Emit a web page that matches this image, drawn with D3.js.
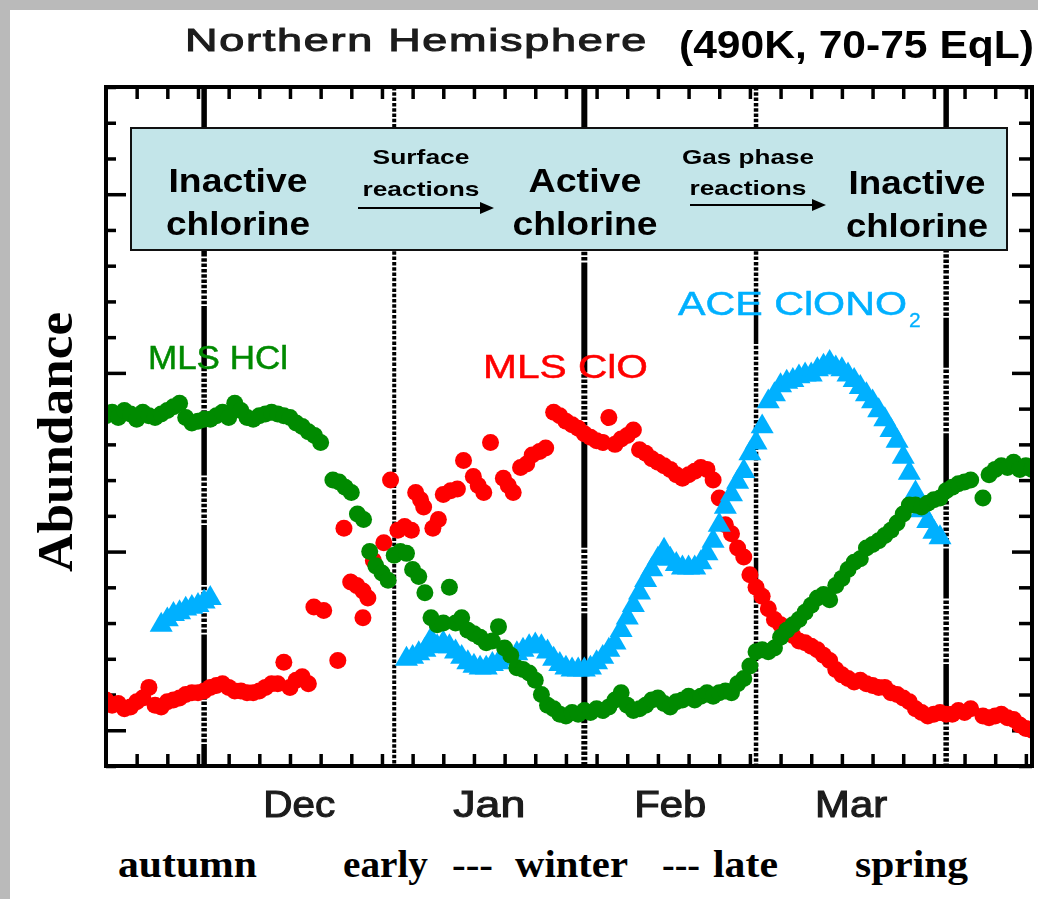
<!DOCTYPE html>
<html>
<head>
<meta charset="utf-8">
<script src="https://cdn.jsdelivr.net/npm/d3@7"></script>
<style>
  html, body { margin: 0; padding: 0; background: #fff; }
  svg { display: block; }
</style>
</head>
<body>
<svg id="chart" width="1038" height="899"></svg>
<script>
// ---------------------------------------------------------------
// Data: chlorine partitioning through the Arctic winter
// Days are counted from 15 November; abundance in arbitrary units.
// ---------------------------------------------------------------
const seasonStart = Date.UTC(2004, 10, 15);
const seasonLength = 151;                       // to 15 April

const monthNames = ["Dec", "Jan", "Feb", "Mar"];
const seasonWords = ["autumn", "early", "---", "winter", "---", "late", "spring"];
const stageLabels = [["Inactive", "chlorine"], ["Active", "chlorine"], ["Inactive", "chlorine"]];
const processLabels = [["Surface", "reactions"], ["Gas phase", "reactions"]];
const seriesNames = ["MLS HCl", "MLS ClO", "ACE ClONO"];

// MLS HCl  [day, abundance]
const hcl = [
  [0,1.76],[1,1.78],[2,1.75],[3,1.79],[4,1.77],[5,1.74],[6,1.78],[7,1.76],[8,1.75],[9,1.77],
  [10,1.79],[11,1.81],[12,1.83],[13,1.75],[14,1.72],[15,1.73],[16,1.74],[17,1.74],[18,1.76],[19,1.78],
  [20,1.75],[21,1.83],[22,1.79],[23,1.75],[24,1.74],[25,1.76],[26,1.77],[27,1.78],[28,1.77],[29,1.76],
  [30,1.75],[31,1.72],[32,1.70],[33,1.67],[34,1.65],[35,1.61],
  [37,1.40],[38,1.39],[39,1.36],[40,1.33],[41,1.21],[42,1.18],[43,1.00],[44,0.92],[45,0.88],[46,0.84],
  [47,0.98],[48,1.00],[49,0.99],[50,0.90],[51,0.86],[52,0.77],[53,0.63],[54,0.59],[55,0.60],[56,0.80],
  [57,0.60],[58,0.63],[59,0.56],[60,0.54],[61,0.52],[62,0.49],[63,0.50],[64,0.58],[65,0.46],[66,0.42],
  [67,0.35],[68,0.34],[69,0.32],[70,0.28],[71,0.20],[72,0.14],[73,0.12],[74,0.09],[75,0.08],[76,0.10],
  [77,0.09],[78,0.11],[79,0.10],[80,0.12],[81,0.11],[82,0.13],[83,0.17],[84,0.21],[85,0.14],[86,0.11],
  [87,0.12],[88,0.14],[89,0.17],[90,0.18],[91,0.15],[92,0.13],[93,0.16],[94,0.17],[95,0.19],[96,0.17],
  [97,0.19],[98,0.21],[99,0.19],[100,0.21],[101,0.22],[102,0.21],[103,0.26],[104,0.29],[105,0.36],[106,0.44],
  [107,0.45],[108,0.44],[109,0.46],[110,0.52],[111,0.56],[112,0.59],[113,0.62],[114,0.66],[115,0.70],[116,0.74],
  [117,0.76],[118,0.73],[119,0.81],[120,0.85],[121,0.90],[122,0.94],[123,0.96],[124,1.02],[125,1.04],[126,1.06],
  [127,1.09],[128,1.12],[129,1.16],[130,1.21],[131,1.26],[132,1.26],[133,1.25],[134,1.27],[135,1.29],[136,1.30],
  [137,1.34],[138,1.36],[139,1.38],[140,1.39],[141,1.40],[143,1.30],[144,1.43],[145,1.46],[146,1.48],
  [147,1.47],[148,1.50],[149,1.46],[150,1.48],[151,1.46]
];

// MLS ClO  [day, abundance]
const clo = [
  [0,0.17],[1,0.14],[2,0.15],[3,0.12],[4,0.13],[5,0.16],[6,0.18],[7,0.24],[8,0.14],[9,0.13],
  [10,0.16],[11,0.17],[12,0.18],[13,0.20],[14,0.21],[15,0.21],[16,0.22],[17,0.24],[18,0.25],[19,0.26],
  [20,0.24],[21,0.22],[22,0.22],[23,0.21],[24,0.21],[25,0.22],[26,0.24],[27,0.26],[28,0.26],[29,0.38],
  [30,0.24],[31,0.28],[32,0.30],[33,0.26],
  [33.9,0.69],[35.5,0.67],[37.8,0.39],[38.8,1.13],[39.9,0.83],[40.9,0.81],[41.9,0.78],[42.7,0.74],
  [41.9,0.63],[43.6,0.95],[45.3,1.05],[46.4,1.40],[47.6,1.12],[48.7,1.14],[49.8,1.12],[50.5,1.33],
  [51.3,1.29],[51.8,1.25],[53.3,1.13],[54.2,1.18],[55.0,1.32],[56.2,1.34],[57.3,1.35],[58.3,1.51],
  [59.9,1.42],[60.7,1.37],[61.6,1.33],[62.7,1.61],[64.8,1.41],[65.6,1.37],[66.4,1.33],[67.6,1.47],
  [68.6,1.49],[69.5,1.54],[70.7,1.56],[71.7,1.58],
  [73,1.78],[74,1.76],[75,1.73],[76,1.71],[77,1.69],[78,1.66],[79,1.64],[80,1.62],[81,1.61],
  [82,1.75],[83,1.60],[84,1.63],[85,1.65],[86,1.68],[87,1.57],[88,1.55],[89,1.52],[90,1.50],[91,1.48],
  [92,1.46],[93,1.43],[94,1.41],[95,1.43],[96,1.45],[97,1.47],[98,1.46],[99,1.40],[100,1.30],[101,1.15],
  [102,1.10],[103,1.02],[104,0.97],[105,0.87],[106,0.80],[107,0.75],[108,0.68],[109,0.62],[110,0.59],[111,0.56],
  [112,0.53],[113,0.50],[114,0.49],[115,0.47],[116,0.45],[117,0.42],[118,0.39],[119,0.34],[120,0.31],[121,0.29],
  [122,0.27],[123,0.28],[124,0.26],[125,0.25],[126,0.24],[127,0.24],[128,0.21],[129,0.20],[130,0.18],[131,0.16],
  [132,0.12],[133,0.10],[134,0.08],[135,0.09],[136,0.10],[137,0.09],[138,0.09],[139,0.11],[140,0.10],[141,0.12],
  [143,0.08],[144,0.07],[145,0.08],[146,0.09],[147,0.07],[148,0.06],[149,0.03],[150,0.01],[151,0.00]
];

// ACE ClONO2  [day, abundance]
const clono2 = [
  [9,0.60],[10,0.63],[11,0.66],[12,0.67],[13,0.69],[14,0.70],[15,0.71],[16,0.73],[17,0.75],
  [49,0.41],[50,0.42],[51,0.44],[52,0.46],[53,0.52],[54,0.48],[55,0.50],[56,0.48],[57,0.45],[58,0.42],
  [59,0.39],[60,0.37],[61,0.36],[62,0.36],[63,0.38],[64,0.39],[65,0.41],[66,0.42],[67,0.44],[68,0.46],
  [69,0.48],[70,0.49],[71,0.48],[72,0.45],[73,0.41],[74,0.38],[75,0.36],[76,0.35],[77,0.35],[78,0.35],
  [79,0.36],[80,0.39],[81,0.42],[82,0.46],[83,0.50],[84,0.57],[85,0.64],[86,0.71],[87,0.78],[88,0.85],
  [89,0.91],[90,0.97],[91,1.02],[92,0.97],[93,0.94],[94,0.92],[95,0.92],[96,0.92],[97,0.95],[98,1.00],
  [99,1.07],[100,1.16],[101,1.26],[102,1.33],[103,1.40],[104,1.46],[105,1.56],[106,1.62],[107,1.71],[108,1.85],
  [109,1.89],[110,1.94],[111,1.96],[112,1.97],[113,1.99],[114,2.00],[115,2.00],[116,2.03],[117,2.05],[118,2.07],
  [119,2.04],[120,2.03],[121,2.00],[122,1.97],[123,1.93],[124,1.89],[125,1.85],[126,1.80],[127,1.75],[128,1.69],
  [129,1.63],[130,1.54],[131,1.45],[132,1.34],[133,1.24],[134,1.18],[135,1.12],[136,1.09]
];

const yTicks = d3.range(-0.2, 3.61, 0.2).map(v => +v.toFixed(1));
const yMajor = [0, 1, 2, 3];
const tickDays = d3.range(5, seasonLength, 5);

// ---------------------------------------------------------------
// Layout and scales
// ---------------------------------------------------------------
const GREEN = "#008a00", RED = "#ff0000", BLUE = "#00b0ff";
const SANS = "'Liberation Sans', Arial, Helvetica, sans-serif";
const SERIF = "'Liberation Serif', 'Times New Roman', serif";
const frame = { left: 106, right: 1032, top: 87, bottom: 766 };

const toDate = d => new Date(seasonStart + d * 864e5);
const x = d3.scaleUtc().domain([toDate(0), toDate(seasonLength)]).range([frame.left, frame.right]);
const y = d3.scaleLinear().domain([-0.2, 3.6]).range([frame.bottom, frame.top]);

const svg = d3.select("#chart");
const defs = svg.append("defs");
defs.append("clipPath").attr("id", "plotClip")
  .append("rect")
  .attr("x", frame.left).attr("y", frame.top)
  .attr("width", frame.right - frame.left).attr("height", frame.bottom - frame.top);
defs.append("filter").attr("id", "soft")
  .attr("x", "-5%").attr("y", "-5%").attr("width", "110%").attr("height", "110%")
  .append("feGaussianBlur").attr("stdDeviation", 0.7);

// page background with grey margins
svg.append("rect").attr("width", 1038).attr("height", 899).attr("fill", "#fff");
svg.append("rect").attr("width", 1038).attr("height", 10).attr("fill", "#bababa");
svg.append("rect").attr("width", 10).attr("height", 899).attr("fill", "#bababa");

// text helper: stretched to a fixed width
function put(g, t, o) {
  const el = g.append("text")
    .attr("x", o.x).attr("y", o.y)
    .attr("font-family", o.family || SANS)
    .attr("font-size", o.size)
    .attr("font-weight", o.weight || "normal")
    .attr("fill", o.fill || "#000")
    .attr("text-anchor", o.anchor || "start")
    .text(t);
  if (o.length) el.attr("textLength", o.length).attr("lengthAdjust", "spacingAndGlyphs");
  if (o.spacing) el.attr("letter-spacing", o.spacing);
  if (o.stroke) el.attr("stroke", o.fill || "#000").attr("stroke-width", o.stroke);
  if (o.transform) el.attr("transform", o.transform);
  return el;
}

// ---------------------------------------------------------------
// Month boundaries (patterned vertical lines: solid runs + dotted runs)
// ---------------------------------------------------------------
const monthStarts = d3.utcMonth.range(toDate(1), toDate(seasonLength));
const dotted = n => d3.range(n).map(() => "3.5,1.8").join(",");
const monthDash = [
  "60,1.8," + dotted(9),
  "3.5,1.8",
  "110,1.8," + dotted(12),
  dotted(40) + ",45,1.8",
  "50,1.8," + dotted(12)
];
const monthWidth = [5.5, 4, 6, 4.5, 5.5];
svg.append("g").selectAll("line").data(monthStarts).join("line")
  .attr("x1", d => x(d)).attr("x2", d => x(d))
  .attr("y1", frame.top).attr("y2", frame.bottom)
  .attr("stroke", "#000")
  .attr("stroke-width", (d, i) => monthWidth[i % monthWidth.length])
  .attr("stroke-dasharray", (d, i) => monthDash[i % monthDash.length]);

// ---------------------------------------------------------------
// Ticks on all four sides
// ---------------------------------------------------------------
const tickDates = tickDays.map(toDate);
function styleAxis(g) {
  g.select(".domain").remove();
  g.selectAll(".tick line").attr("stroke", "#000").attr("stroke-width", 3.5);
  g.selectAll(".tick text").remove();
}
svg.append("g").attr("transform", `translate(0,${frame.bottom})`)
  .call(d3.axisBottom(x).tickValues(tickDates).tickSize(-12).tickFormat(() => ""))
  .call(styleAxis);
svg.append("g").attr("transform", `translate(0,${frame.top})`)
  .call(d3.axisTop(x).tickValues(tickDates).tickSize(-12).tickFormat(() => ""))
  .call(styleAxis);
svg.append("g").attr("transform", `translate(${frame.left},0)`)
  .call(d3.axisLeft(y).tickValues(yTicks).tickSize(-10).tickFormat(() => ""))
  .call(styleAxis)
  .selectAll(".tick line").filter(d => yMajor.includes(d)).attr("x2", 20);
svg.append("g").attr("transform", `translate(${frame.right},0)`)
  .call(d3.axisRight(y).tickValues(yTicks).tickSize(-13).tickFormat(() => ""))
  .call(styleAxis)
  .selectAll(".tick line").filter(d => yMajor.includes(d)).attr("x2", -20);

// ---------------------------------------------------------------
// Data marks
// ---------------------------------------------------------------
const marks = svg.append("g").attr("clip-path", "url(#plotClip)")
  .append("g").attr("filter", "url(#soft)");

marks.append("g").selectAll("circle").data(clo).join("circle")
  .attr("cx", d => x(toDate(d[0]))).attr("cy", d => y(d[1]))
  .attr("r", 8.5).attr("fill", RED);

const tri = d3.symbol().type(d3.symbolTriangle).size(230);
marks.append("g").selectAll("path").data(clono2).join("path")
  .attr("d", tri)
  .attr("transform", d => `translate(${x(toDate(d[0]))},${y(d[1]) + 2})`)
  .attr("fill", BLUE);

marks.append("g").selectAll("circle").data(hcl).join("circle")
  .attr("cx", d => x(toDate(d[0]))).attr("cy", d => y(d[1]))
  .attr("r", 8.5).attr("fill", GREEN);

// frame
svg.append("rect")
  .attr("x", frame.left).attr("y", frame.top)
  .attr("width", frame.right - frame.left).attr("height", frame.bottom - frame.top)
  .attr("fill", "none").attr("stroke", "#000").attr("stroke-width", 4);

// ---------------------------------------------------------------
// Process box
// ---------------------------------------------------------------
const box = svg.append("g");
box.append("rect").attr("x", 131).attr("y", 128).attr("width", 876).attr("height", 122)
  .attr("fill", "#c3e5e9").attr("stroke", "#111").attr("stroke-width", 2);

const stageLayout = [
  { cx: 238, y: [192, 235], w: [139, 144] },
  { cx: 585, y: [192, 235], w: [113, 145] },
  { cx: 917, y: [194, 237], w: [137, 142] }
];
stageLabels.forEach((lines, i) => {
  lines.forEach((t, j) => put(box, t, {
    x: stageLayout[i].cx, y: stageLayout[i].y[j], size: 33, weight: "bold",
    anchor: "middle", length: stageLayout[i].w[j]
  }));
});

const processLayout = [
  { cx: 421, y: [164, 196], w: [97, 117], arrow: [358, 494, 208] },
  { cx: 748, y: [164, 195], w: [132, 117], arrow: [690, 826, 205] }
];
processLabels.forEach((lines, i) => {
  const L = processLayout[i];
  lines.forEach((t, j) => put(box, t, {
    x: L.cx, y: L.y[j], size: 21, weight: "bold", anchor: "middle", length: L.w[j]
  }));
  const [x0, x1, ay] = L.arrow;
  box.append("line").attr("x1", x0).attr("x2", x1 - 12).attr("y1", ay).attr("y2", ay)
    .attr("stroke", "#000").attr("stroke-width", 2);
  box.append("path").attr("d", `M${x1},${ay} L${x1 - 14},${ay - 6} L${x1 - 14},${ay + 6} Z`)
    .attr("fill", "#000");
});

// ---------------------------------------------------------------
// Series labels
// ---------------------------------------------------------------
put(svg, seriesNames[0], { x: 148, y: 369, size: 33, fill: GREEN, length: 140, stroke: 0.5 });
put(svg, seriesNames[1], { x: 483, y: 378, size: 33, fill: RED, length: 165, stroke: 0.5 });
put(svg, seriesNames[2], { x: 678, y: 315, size: 33, fill: BLUE, length: 229, stroke: 0.5 });
put(svg, "2", { x: 909, y: 327, size: 21, fill: BLUE, stroke: 0.3 });

// ---------------------------------------------------------------
// Titles and axis text
// ---------------------------------------------------------------
put(svg, "Northern Hemisphere", { x: 185, y: 51, size: 31, fill: "#1c1c1c", spacing: 1.2, length: 463, stroke: 1 });
put(svg, "(490K, 70-75 EqL)", { x: 679, y: 58, size: 38, weight: "bold", length: 355 });

monthNames.forEach((m, i) => {
  const s = monthStarts[i], e = monthStarts[i + 1];
  const mid = new Date((s.getTime() + e.getTime()) / 2);
  put(svg, m, { x: x(mid), y: 817, size: 37, fill: "#1c1c1c", anchor: "middle", length: 72, stroke: 1.1 });
});

put(svg, "Abundance", {
  x: 0, y: 0, size: 50, weight: "bold", family: SERIF, anchor: "middle", length: 260,
  transform: "translate(72,442) rotate(-90)"
});

const seasonLayout = [[118, 139], [343, 85], [452, 41], [515, 113], [662, 38], [713, 65], [855, 113]];
seasonWords.forEach((w, i) => put(svg, w, {
  x: seasonLayout[i][0], y: 877, size: 37, weight: "bold", family: SERIF, length: seasonLayout[i][1]
}));
</script>
</body>
</html>
